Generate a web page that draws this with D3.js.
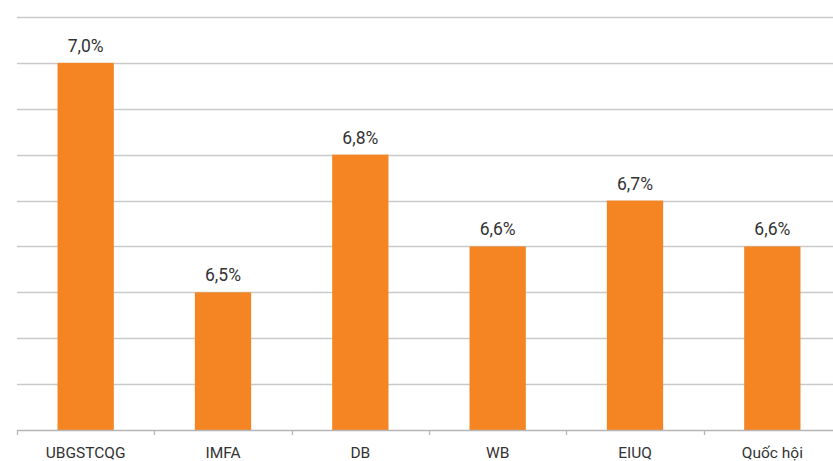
<!DOCTYPE html>
<html>
<head>
<meta charset="utf-8">
<script src="https://cdn.jsdelivr.net/npm/d3@7"></script>
<style>
html,body{margin:0;padding:0;background:#fff;}
svg{display:block;}
</style>
</head>
<body>
<svg id="chart" width="833" height="461"></svg>
<script>
const categories = ["UBGSTCQG", "IMFA", "DB", "WB", "EIUQ", "Quốc hội"];
const values = [7.0, 6.5, 6.8, 6.6, 6.7, 6.6];
const valueLabels = ["7,0%", "6,5%", "6,8%", "6,6%", "6,7%", "6,6%"];
const gridTicks = [6.2, 6.3, 6.4, 6.5, 6.6, 6.7, 6.8, 6.9, 7.0, 7.1];

(function () {
const svg = d3.select("#chart");
const mLeft = 17, mRight = 841, mTop = 17, mBottom = 430;

const x = d3.scaleBand().domain(categories).range([mLeft, mRight]).paddingInner(0.59).paddingOuter(0.295);
const y = d3.scaleLinear().domain([6.2, 7.1]).range([mBottom, mTop]);

// gridlines
svg.append("g").selectAll("line").data(gridTicks.slice(1)).join("line")
  .attr("x1", mLeft).attr("x2", mRight)
  .attr("y1", d => Math.round(y(d)) + 0.5).attr("y2", d => Math.round(y(d)) + 0.5)
  .attr("stroke", "#c9c9c9").attr("stroke-width", 1.3);

// bars
svg.append("g").selectAll("rect").data(values).join("rect")
  .attr("x", (d, i) => x(categories[i]))
  .attr("width", x.bandwidth())
  .attr("y", d => y(d))
  .attr("height", d => mBottom - y(d))
  .attr("fill", "#f48522");

// x axis
const xAxisScale = d3.scalePoint().domain(d3.range(categories.length + 1)).range([mLeft, mRight]);
const ax = svg.append("g");
ax.append("line").attr("x1", mLeft).attr("x2", mRight).attr("y1", mBottom + 0.5).attr("y2", mBottom + 0.5)
  .attr("stroke", "#b5b5b5").attr("stroke-width", 1.3);
ax.selectAll("line.tick").data(d3.range(categories.length + 1)).join("line")
  .attr("class", "tick")
  .attr("x1", d => Math.round(xAxisScale(d)) + 0.5).attr("x2", d => Math.round(xAxisScale(d)) + 0.5)
  .attr("y1", mBottom).attr("y2", mBottom + 5)
  .attr("stroke", "#b5b5b5").attr("stroke-width", 1.3);

ax.selectAll("text").data(categories).join("text")
  .attr("x", d => x(d) + x.bandwidth() / 2)
  .attr("y", 458)
  .attr("text-anchor", "middle")
  .attr("font-family", "Roboto, 'Open Sans', sans-serif")
  .attr("font-size", 15.5)
  .attr("fill", "#333")
  .text(d => d);

// value labels
svg.append("g").selectAll("text").data(values).join("text")
  .attr("x", (d, i) => x(categories[i]) + x.bandwidth() / 2)
  .attr("y", d => y(d) - 11)
  .attr("text-anchor", "middle")
  .attr("font-family", "Roboto, 'Open Sans', sans-serif")
  .attr("font-size", 17.5)
  .attr("fill", "#333")
  .text((d, i) => valueLabels[i]);
})();
</script>
</body>
</html>
